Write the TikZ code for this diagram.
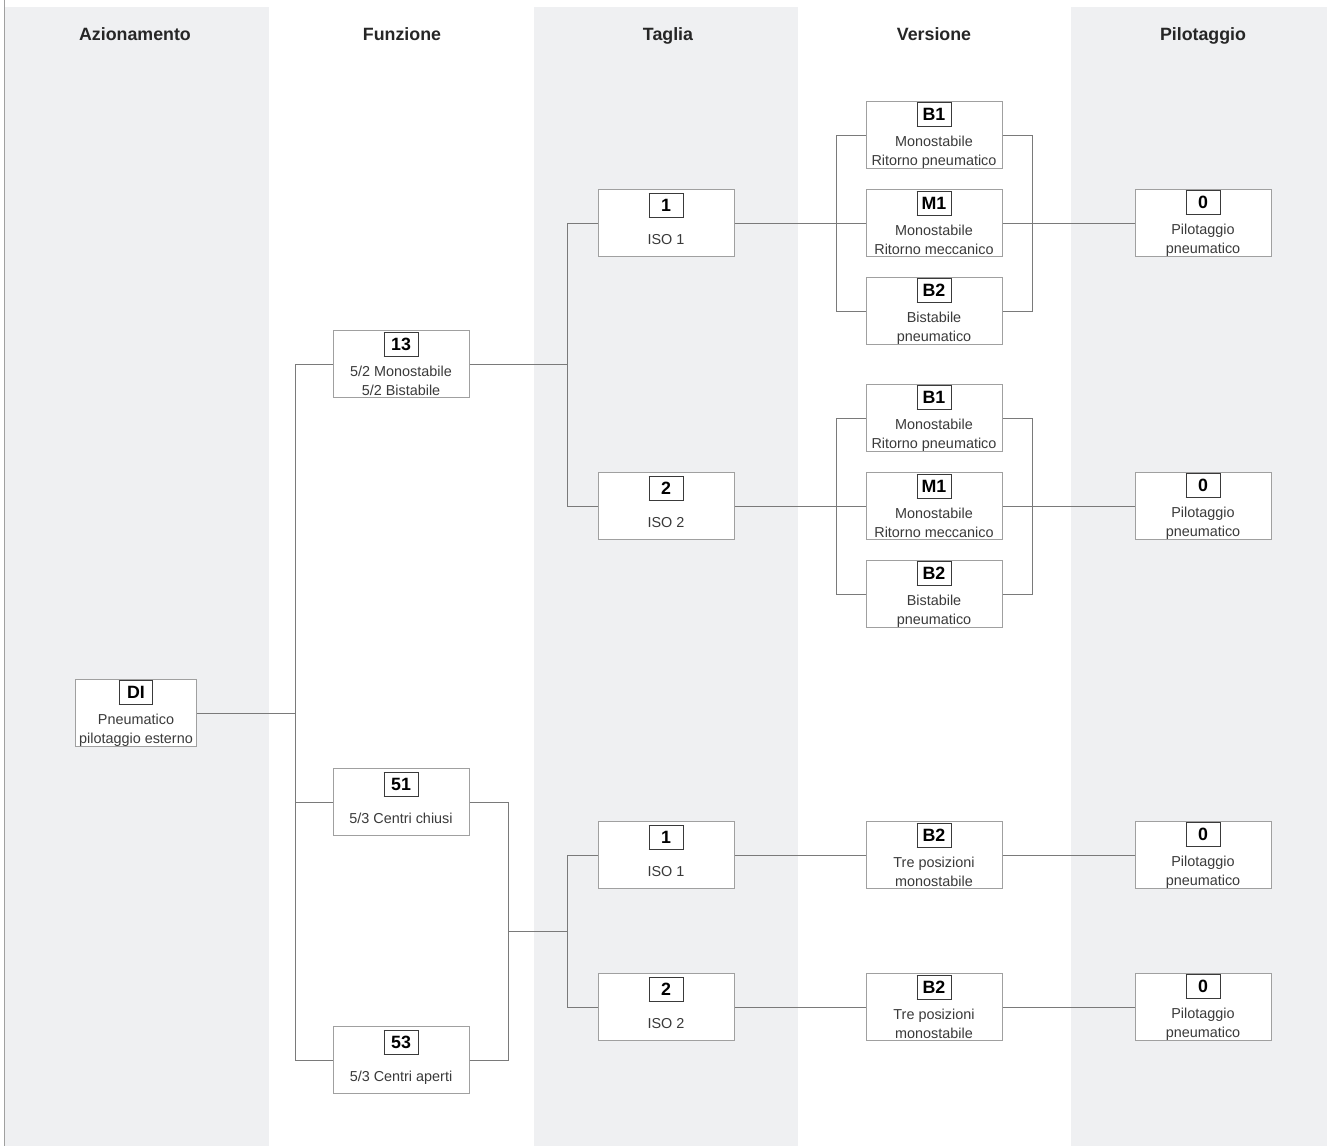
\documentclass[tikz,border=0pt]{standalone}
\usepackage{fontspec}
\setmainfont{Liberation Sans}
\usepackage{tikz}

\definecolor{bandgray}{HTML}{EFF0F2}
\definecolor{linegray}{HTML}{7A7A7A}
\definecolor{boxgray}{HTML}{A0A0A0}
\definecolor{txtgray}{HTML}{3A3A3A}

\newcommand\cod[1]{{\setlength\fboxsep{0pt}\setlength\fboxrule{0.5pt}%
  \fbox{\parbox[c][11.5pt][c]{16.5pt}{\centering\color{black}\bfseries\fontsize{8.9}{10}\selectfont #1}}}}

\begin{document}
\begin{tikzpicture}[x=0.5pt,y=-0.5pt]
			\tikzset{opt/.style={shape = rectangle, draw = boxgray, fill = white, line width = 0.5pt,
					minimum width = 68pt, minimum height = 33.5pt, inner sep = 0pt, align = center,
					text = txtgray, font = \fontsize{7.2}{9.5}\selectfont}}
			\tikzset{opt2/.style={opt, text depth = 4.5pt}}
			\tikzset{head/.style={anchor = base, font = \fontsize{8.9}{10}\selectfont\bfseries, text = black!85}}
			\tikzset{conn/.style={draw = linegray, line width = 0.5pt}}
			\useasboundingbox (0,0) rectangle (1327,1146);
			%columns
			\fill[bandgray] (4,7) rectangle (269,1146);
			\fill[bandgray] (534,7) rectangle (798,1146);
			\fill[bandgray] (1071,7) rectangle (1327,1146);
			\draw[boxgray, line width = 0.5pt] (4,0) -- (4,1146);
			\node[head] (hazi) at (135,40) {Azionamento};
			\node[head] (hfun) at (402,40) {Funzione};
			\node[head] (htag) at (668,40) {Taglia};
			\node[head] (hver) at (934,40) {Versione};
			\node[head] (hpil) at (1203,40) {Pilotaggio};
			%boxes
			\node[opt, minimum width = 60.5pt] (di) at (136,713) {\cod{DI}\\[3.5pt]Pneumatico\\pilotaggio esterno};
			\node[opt] (f13) at (401,364) {\cod{13}\\[3.5pt]5/2 Monostabile\\5/2 Bistabile};
			\node[opt2] (f51) at (401,802) {\cod{51}\\[7pt]5/3 Centri chiusi};
			\node[opt2] (f53) at (401,1060) {\cod{53}\\[7pt]5/3 Centri aperti};
			\node[opt2] (t1a) at (666,223) {\cod{1}\\[7pt]ISO 1};
			\node[opt2] (t2a) at (666,506) {\cod{2}\\[7pt]ISO 2};
			\node[opt2] (t1b) at (666,855) {\cod{1}\\[7pt]ISO 1};
			\node[opt2] (t2b) at (666,1007) {\cod{2}\\[7pt]ISO 2};
			\node[opt] (b1a) at (934,135) {\cod{B1}\\[3.5pt]Monostabile\\Ritorno pneumatico};
			\node[opt] (m1a) at (934,223) {\cod{M1}\\[3.5pt]Monostabile\\Ritorno meccanico};
			\node[opt] (b2a) at (934,311) {\cod{B2}\\[3.5pt]Bistabile\\pneumatico};
			\node[opt] (b1b) at (934,418) {\cod{B1}\\[3.5pt]Monostabile\\Ritorno pneumatico};
			\node[opt] (m1b) at (934,506) {\cod{M1}\\[3.5pt]Monostabile\\Ritorno meccanico};
			\node[opt] (b2b) at (934,594) {\cod{B2}\\[3.5pt]Bistabile\\pneumatico};
			\node[opt] (b2c) at (934,855) {\cod{B2}\\[3.5pt]Tre posizioni\\monostabile};
			\node[opt] (b2d) at (934,1007) {\cod{B2}\\[3.5pt]Tre posizioni\\monostabile};
			\node[opt] (p0a) at (1203,223) {\cod{0}\\[3.5pt]Pilotaggio\\pneumatico};
			\node[opt] (p0b) at (1203,506) {\cod{0}\\[3.5pt]Pilotaggio\\pneumatico};
			\node[opt] (p0c) at (1203,855) {\cod{0}\\[3.5pt]Pilotaggio\\pneumatico};
			\node[opt] (p0d) at (1203,1007) {\cod{0}\\[3.5pt]Pilotaggio\\pneumatico};
			%junctions
			\coordinate (j1) at (295,713);
			\coordinate (j2) at (567,364);
			\coordinate (j3) at (508,931);
			\coordinate (j4) at (567,931);
			\coordinate (j5) at (836,223);
			\coordinate (j6) at (1032,223);
			\coordinate (j7) at (836,506);
			\coordinate (j8) at (1032,506);
			%edges
			\path[conn] (di) -- (j1);
			\path[conn] (j1) |- (f13.west);
			\path[conn] (j1) |- (f51.west);
			\path[conn] (j1) |- (f53.west);
			\path[conn] (f13) -- (j2);
			\path[conn] (j2) |- (t1a.west);
			\path[conn] (j2) |- (t2a.west);
			\path[conn] (f51.east) -| (j3);
			\path[conn] (f53.east) -| (j3);
			\path[conn] (j3) -- (j4);
			\path[conn] (j4) |- (t1b.west);
			\path[conn] (j4) |- (t2b.west);
			\path[conn] (t1a) -- (m1a);
			\path[conn] (j5) |- (b1a.west);
			\path[conn] (j5) |- (b2a.west);
			\path[conn] (b1a.east) -| (j6);
			\path[conn] (b2a.east) -| (j6);
			\path[conn] (m1a) -- (p0a);
			\path[conn] (t2a) -- (m1b);
			\path[conn] (j7) |- (b1b.west);
			\path[conn] (j7) |- (b2b.west);
			\path[conn] (b1b.east) -| (j8);
			\path[conn] (b2b.east) -| (j8);
			\path[conn] (m1b) -- (p0b);
			\path[conn] (t1b) -- (b2c);
			\path[conn] (b2c) -- (p0c);
			\path[conn] (t2b) -- (b2d);
			\path[conn] (b2d) -- (p0d);
\end{tikzpicture}
\end{document}
